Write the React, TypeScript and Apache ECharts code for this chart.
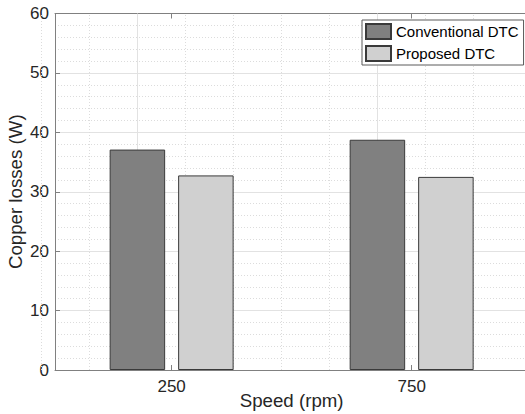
import React, { useEffect, useRef } from "react";
import * as echarts from "echarts";

const speeds = [250, 750];
const conventional = [37.1, 38.75];
const proposed = [32.75, 32.5];
const seriesNames = ["Conventional DTC", "Proposed DTC"];
const xTickValues = [250, 750];
const xMinorGrid = [50, 150, 350, 450, 550, 650, 850, 950];
const xMin = 7;
const xMax = 993;
const yMin = 0;
const yMax = 60;
const yStep = 10;

const FONT = "Liberation Sans, Arial, Helvetica, sans-serif";
const AXIS = "#808080";
const TEXT = "#262626";

export default function App() {
  const ref = useRef<HTMLDivElement>(null);
  useEffect(() => {
    if (!ref.current) return;
    const chart = echarts.init(ref.current, null, { renderer: "svg" });
    const gridLines = [
      ...xMinorGrid.map((v) => ({
        xAxis: v,
        lineStyle: { color: "#dcdcdc", type: [1, 2], width: 1 },
      })),
      ...xTickValues.map((v) => ({
        xAxis: v,
        lineStyle: { color: "#e2e2e2", type: "solid", width: 1 },
      })),
    ];
    chart.setOption({
      animation: false,
      backgroundColor: "#ffffff",
      textStyle: { fontFamily: FONT },
      grid: {
        left: 55,
        top: 13.5,
        bottom: 44,
        right: -3.3,
        containLabel: false,
        outerBoundsMode: "none",
      },
      legend: {
        data: seriesNames,
        orient: "vertical",
        left: 362,
        top: 20,
        icon: "rect",
        itemWidth: 25,
        itemHeight: 15,
        itemGap: 5,
        padding: [3, 5, 3, 3],
        backgroundColor: "#ffffff",
        borderColor: "#5a5a5a",
        borderWidth: 1,
        selectedMode: false,
        textStyle: { fontSize: 15, color: "#000", fontFamily: FONT },
      },
      xAxis: [
        {
          type: "value",
          position: "bottom",
          min: xMin,
          max: xMax,
          name: "Speed (rpm)",
          nameLocation: "middle",
          nameGap: 21,
          nameMoveOverlap: false,
          nameTextStyle: { fontSize: 18.7, color: TEXT, fontFamily: FONT, verticalAlign: "top" },
          axisLine: { show: true, lineStyle: { color: AXIS, width: 1 } },
          axisTick: {
            show: true,
            inside: true,
            length: 5,
            customValues: xTickValues,
            lineStyle: { color: AXIS },
          },
          axisLabel: {
            show: true,
            customValues: xTickValues,
            margin: 8,
            fontSize: 17,
            color: TEXT,
            fontFamily: FONT,
          },
          splitLine: { show: false },
        },
        {
          type: "value",
          position: "top",
          min: xMin,
          max: xMax,
          axisLine: { show: true, onZero: false, lineStyle: { color: AXIS, width: 1 } },
          axisTick: {
            show: true,
            inside: true,
            length: 5,
            customValues: xTickValues,
            lineStyle: { color: AXIS },
          },
          axisLabel: { show: false },
          splitLine: { show: false },
        },
      ],
      yAxis: {
        type: "value",
        min: yMin,
        max: yMax,
        interval: yStep,
        name: "Copper losses (W)",
        nameLocation: "middle",
        nameGap: 30,
        nameMoveOverlap: false,
        nameTextStyle: { fontSize: 18.7, color: TEXT, fontFamily: FONT },
        axisLine: { show: true, lineStyle: { color: AXIS, width: 1 } },
        axisTick: { show: true, inside: true, length: 5, lineStyle: { color: AXIS } },
        axisLabel: { fontSize: 17, color: TEXT, margin: 6, fontFamily: FONT },
        splitLine: { show: true, lineStyle: { color: "#e2e2e2", width: 1 } },
        minorTick: { show: false, splitNumber: 5 },
        minorSplitLine: { show: true, lineStyle: { color: "#dcdcdc", type: [1, 2], width: 1 } },
      },
      series: [
        {
          type: "bar",
          name: seriesNames[0],
          xAxisIndex: 0,
          data: speeds.map((s, i) => [s, conventional[i]]),
          barWidth: 55.5,
          barGap: "23.4%",
          z: 3,
          itemStyle: { color: "#808080", borderColor: "#3a3a3a", borderWidth: 1 },
          markLine: {
            silent: true,
            symbol: "none",
            z: 1,
            label: { show: false },
            emphasis: { disabled: true },
            data: gridLines,
          },
        },
        {
          type: "bar",
          name: seriesNames[1],
          xAxisIndex: 0,
          data: speeds.map((s, i) => [s, proposed[i]]),
          barWidth: 55.5,
          barGap: "23.4%",
          z: 3,
          itemStyle: { color: "#d0d0d0", borderColor: "#3a3a3a", borderWidth: 1 },
        },
      ],
    });
    return () => chart.dispose();
  }, []);
  return (
    <div
      ref={ref}
      style={{ position: "fixed", left: 0, top: 0, width: 525, height: 414 }}
    />
  );
}
